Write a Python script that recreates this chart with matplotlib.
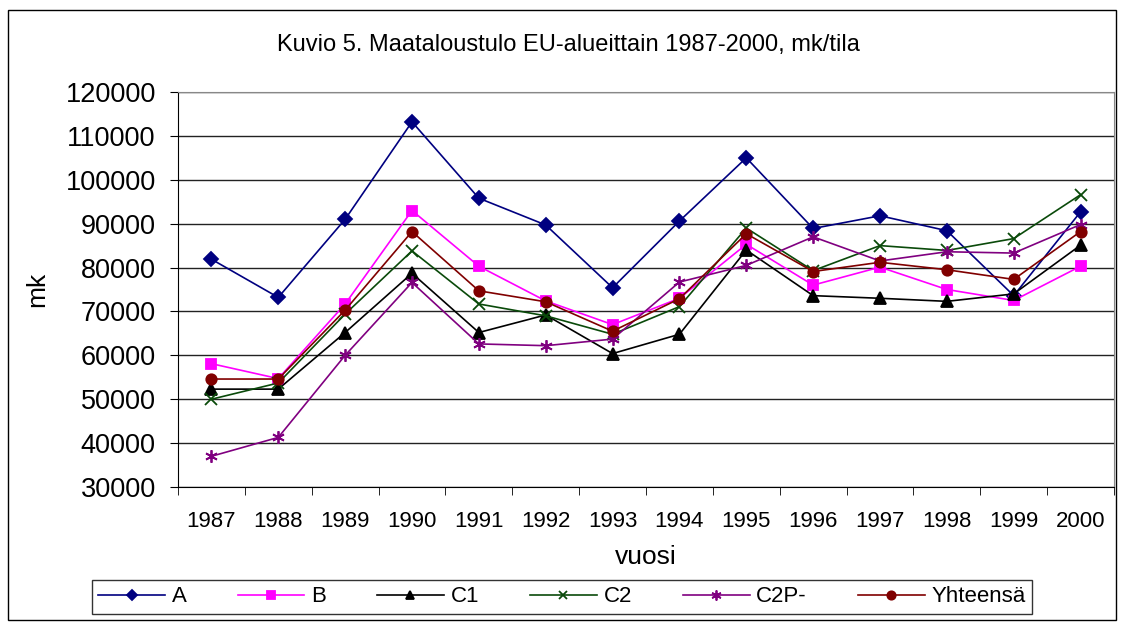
import matplotlib
matplotlib.use("Agg")
import matplotlib.pyplot as plt
from matplotlib.patches import Rectangle
from matplotlib.ticker import FixedLocator, NullFormatter

plt.rcParams['font.family'] = ['Liberation Sans', 'DejaVu Sans']

years = ['1987', '1988', '1989', '1990', '1991', '1992', '1993', '1994',
         '1995', '1996', '1997', '1998', '1999', '2000']
A = [81900, 73200, 91000, 113200, 95800, 89700, 75400, 90600, 105000, 88900, 91800, 88400, 73600, 92700]
B = [58100, 54700, 71700, 93000, 80300, 72400, 67000, 73000, 85300, 76000, 80100, 75000, 72500, 80300]
C1 = [52300, 52300, 65200, 78700, 65200, 69200, 60400, 64800, 84000, 73600, 73000, 72300, 74000, 85100]
C2 = [50000, 53700, 69400, 83800, 71700, 69000, 64800, 71100, 89000, 79300, 85000, 83900, 86600, 96600]
C2P = [37000, 41300, 60000, 76600, 62600, 62200, 63700, 76700, 80500, 87000, 81500, 83600, 83300, 89800]
YHT = [54600, 54600, 70300, 88200, 74700, 72200, 65500, 72900, 87700, 79100, 81200, 79500, 77300, 88200]

series = [
    ('A', A, '#000080', 'D', 7),
    ('B', B, '#FF00FF', 's', 7),
    ('C1', C1, '#000000', '^', 8),
    ('C2', C2, '#0A4A0A', 'x', 8),
    ('C2P-', C2P, '#800080', (6, 2, 0), 9),
    ('Yhteensä', YHT, '#800000', 'o', 7.5),
]

fig = plt.figure(figsize=(11.21, 6.24), dpi=100)
fig.patches.append(Rectangle((8/1121, 1-620/624), 1108/1121, 610/624, transform=fig.transFigure,
                             fill=False, edgecolor='black', linewidth=1.0))

ax = fig.add_axes([178/1121, 1-487/624, 936/1121, 395/624])
x = list(range(len(years)))
for name, vals, col, mk, ms in series:
    ax.plot(x, vals, color=col, marker=mk, markersize=ms, linewidth=1.2,
            markeredgecolor=col, markerfacecolor=col, markeredgewidth=1.3, label=name)

ax.set_ylim(30000, 120000)
ax.set_xlim(-0.5, len(years) - 0.5)
ax.set_yticks(range(30000, 120001, 10000))
ax.set_yticklabels([str(v) for v in range(30000, 120001, 10000)], fontsize=19.5)
ax.yaxis.grid(True, color='#222222', linewidth=1.0)
ax.set_axisbelow(True)
ax.set_xticks(x)
ax.set_xticklabels(years, fontsize=16)
ax.tick_params(axis='x', which='major', length=0, pad=17)
ax.xaxis.set_minor_locator(FixedLocator([i + 0.5 for i in range(-1, len(years))]))
ax.xaxis.set_minor_formatter(NullFormatter())
ax.tick_params(axis='x', which='minor', length=6, color='black')
ax.tick_params(axis='y', length=6, pad=10)
for s in ['top', 'right']:
    ax.spines[s].set_color('#888888')
for s in ['left', 'bottom']:
    ax.spines[s].set_color('black')

ax.set_xlabel('vuosi', fontsize=19, labelpad=10)
ax.set_ylabel('mk', fontsize=19, labelpad=12)
fig.text(568/1121, 1-45/624, 'Kuvio 5. Maataloustulo EU-alueittain 1987-2000, mk/tila',
         ha='center', va='center', fontsize=17)

leg = fig.legend(loc='center', bbox_to_anchor=(562/1121, 1-597/624), ncol=6, fontsize=16,
                 frameon=True, fancybox=False, edgecolor='black', borderpad=0.3,
                 handlelength=3.0, columnspacing=2.3, handletextpad=0.3, markerscale=0.8)
leg.get_frame().set_linewidth(1.0)

fig.savefig('out.png', dpi=100)
